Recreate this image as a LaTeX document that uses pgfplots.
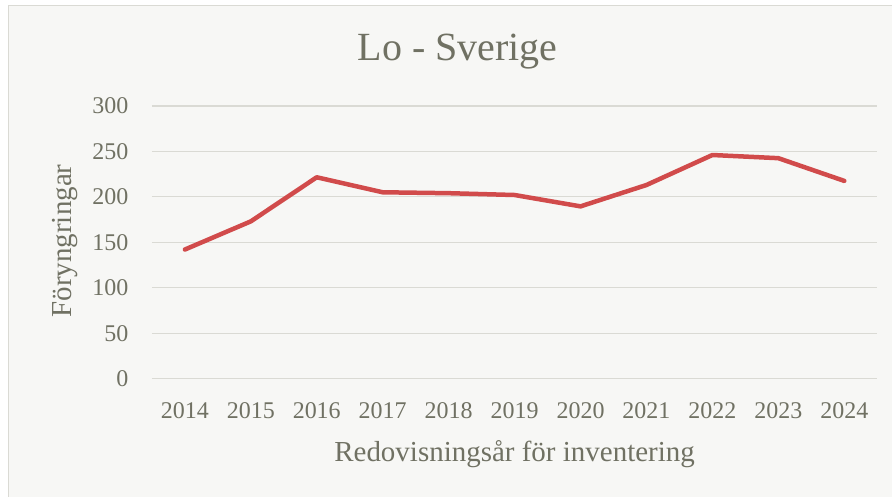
\documentclass[border=0pt]{standalone}
\usepackage{fontspec}
\setmainfont{Liberation Serif}
\usepackage{pgfplots}
\pgfplotsset{compat=1.18}
\definecolor{txt}{RGB}{112,113,99}
\definecolor{bg}{RGB}{247,247,245}
\definecolor{grd}{RGB}{218,218,212}
\definecolor{brd}{RGB}{218,218,212}
\definecolor{ln}{RGB}{209,75,75}
\begin{document}
\begin{tikzpicture}[x=1bp,y=1bp]
\fill[white] (0,0) rectangle (893,497);
\fill[bg] (8.5,0) rectangle (893,491.5);
\draw[brd, line width=1.5bp] (8.5,0) -- (8.5,491.5) -- (893,491.5);
\begin{axis}[
  at={(152bp,118bp)}, anchor=south west,
  scale only axis, width=726bp, height=273bp,
  xmin=-0.5, xmax=10.5, ymin=0, ymax=300,
  xtick={0,...,10},
  xticklabels={2014,2015,2016,2017,2018,2019,2020,2021,2022,2023,2024},
  ytick={0,50,...,300},
  ymajorgrids, grid style={grd, line width=1.3bp},
  axis line style={draw=none}, major tick length=0pt,
  /pgf/number format/assume math mode=true,
  tick label style={font=\fontsize{24bp}{28bp}\selectfont, text=txt},
  yticklabel style={anchor=east, xshift=-20bp},
  xticklabel style={anchor=north, yshift=-20bp},
  title={Lo - Sverige},
  title style={font=\fontsize{40bp}{46bp}\selectfont, text=txt, at={(0.4215,1)}, anchor=base, yshift=39bp},
  xlabel={Redovisningsår för inventering},
  xlabel style={font=\fontsize{29bp}{34bp}\selectfont, text=txt, at={(0.5,0)}, anchor=base, yshift=-83bp},
  ylabel={Föryngringar},
  ylabel style={font=\fontsize{29bp}{34bp}\selectfont, text=txt, at={(-0.111,0.505)}, anchor=base, rotate=0},
  clip=false,
]
\addplot[ln, line width=4.5bp, line join=round, line cap=round] coordinates {
  (0,142) (1,173) (2,221.5) (3,205) (4,204) (5,202) (6,189.5) (7,213) (8,246) (9,242.5) (10,217.5)
};
\end{axis}
\end{tikzpicture}
\end{document}
